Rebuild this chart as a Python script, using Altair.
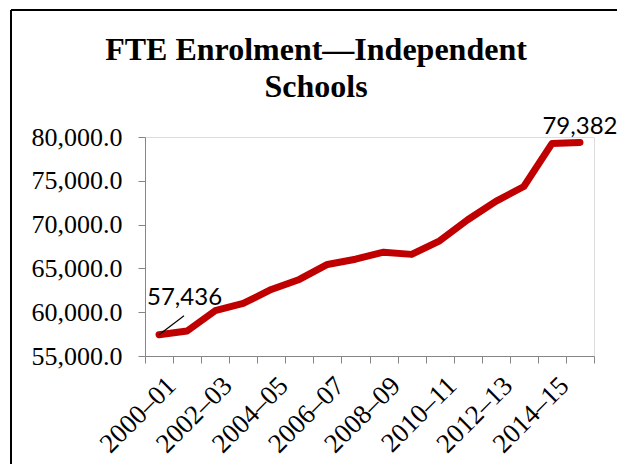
import altair as alt
import pandas as pd

periods = ["2000–01", "2001–02", "2002–03", "2003–04", "2004–05", "2005–06",
           "2006–07", "2007–08", "2008–09", "2009–10", "2010–11", "2011–12",
           "2012–13", "2013–14", "2014–15", "2015–16"]
values = [57436, 57850, 60170, 61000, 62600, 63740, 65450, 66050, 66850, 66600,
          68150, 70550, 72650, 74350, 79250, 79382]
label_text = ["57,436", "", "", "", "", "", "", "", "", "", "", "", "", "", "", "79,382"]
title_lines = ["FTE Enrolment—Independent", "Schools"]

df = pd.DataFrame({"period": periods, "value": values, "lbl": label_text})
one = pd.DataFrame({"k": [0]})

W, H = 449, 219

x = alt.X("period:N", sort=periods, title=None,
          scale=alt.Scale(type="band", paddingInner=0, paddingOuter=0),
          axis=alt.Axis(labelAngle=315, labelFont="Liberation Serif", labelFontSize=27,
                        labelColor="black", tickBand="extent", tickSize=7,
                        tickColor="#868686", domainColor="#868686",
                        labelExpr="toNumber(substring(datum.value,0,4)) % 2 == 0 ? datum.label : ''",
                        labelPadding=9, labelOffset=3))
y = alt.Y("value:Q", title=None,
          scale=alt.Scale(domain=[55000, 80000], nice=False, zero=False),
          axis=alt.Axis(values=[55000, 60000, 65000, 70000, 75000, 80000], format=",.1f",
                        labelFont="Liberation Serif", labelFontSize=26, labelColor="black",
                        tickSize=7, tickColor="#868686", domainColor="#868686",
                        labelPadding=16, grid=False))

base = alt.Chart(df)

line = base.mark_line(color="#C00000", strokeWidth=7, strokeCap="round",
                      strokeJoin="round").encode(x=x, y=y)

first = base.transform_filter(alt.datum.period == periods[0])
last = base.transform_filter(alt.datum.period == periods[-1])

first_lbl = first.mark_text(font="Lato", fontSize=24, align="left", baseline="alphabetic",
                            dx=-12, dy=-30, color="black").encode(
    x=alt.X("period:N", sort=periods), y="value:Q", text="lbl:N")
last_lbl = last.mark_text(font="Lato", fontSize=24, align="center", baseline="alphabetic",
                          dy=-8, color="black").encode(
    x=alt.X("period:N", sort=periods), y="value:Q", text="lbl:N")
leader = first.mark_rule(color="black", strokeWidth=1.2, x2Offset=25, y2Offset=-19).encode(
    x=alt.X("period:N", sort=periods), y="value:Q",
    x2=alt.X2("period:N"), y2=alt.Y2("value:Q"))

title1 = alt.Chart(one).mark_text(font="Liberation Serif", fontSize=32, fontWeight="bold",
                                  align="center", baseline="alphabetic", color="black").encode(
    x=alt.value(171), y=alt.value(-77), text=alt.value(title_lines[0]))
title2 = alt.Chart(one).mark_text(font="Liberation Serif", fontSize=32, fontWeight="bold",
                                  align="center", baseline="alphabetic", color="black").encode(
    x=alt.value(171), y=alt.value(-40), text=alt.value(title_lines[1]))

border_top = alt.Chart(one).mark_rule(color="black", strokeWidth=2).encode(
    x=alt.value(-134), x2=alt.value(600), y=alt.value(-127))
border_left = alt.Chart(one).mark_rule(color="black", strokeWidth=2).encode(
    x=alt.value(-134), y=alt.value(-127), y2=alt.value(400))

chart = alt.layer(border_top, border_left, title1, title2, line, leader,
                  first_lbl, last_lbl).properties(
    width=W, height=H,
    autosize=alt.AutoSizeParams(type="none"),
    padding={"left": 137, "top": 129, "right": 23, "bottom": 108},
).configure_view(stroke=None).configure(background="white")

chart.save("out.html", embed_options={"renderer": "svg", "actions": False})
